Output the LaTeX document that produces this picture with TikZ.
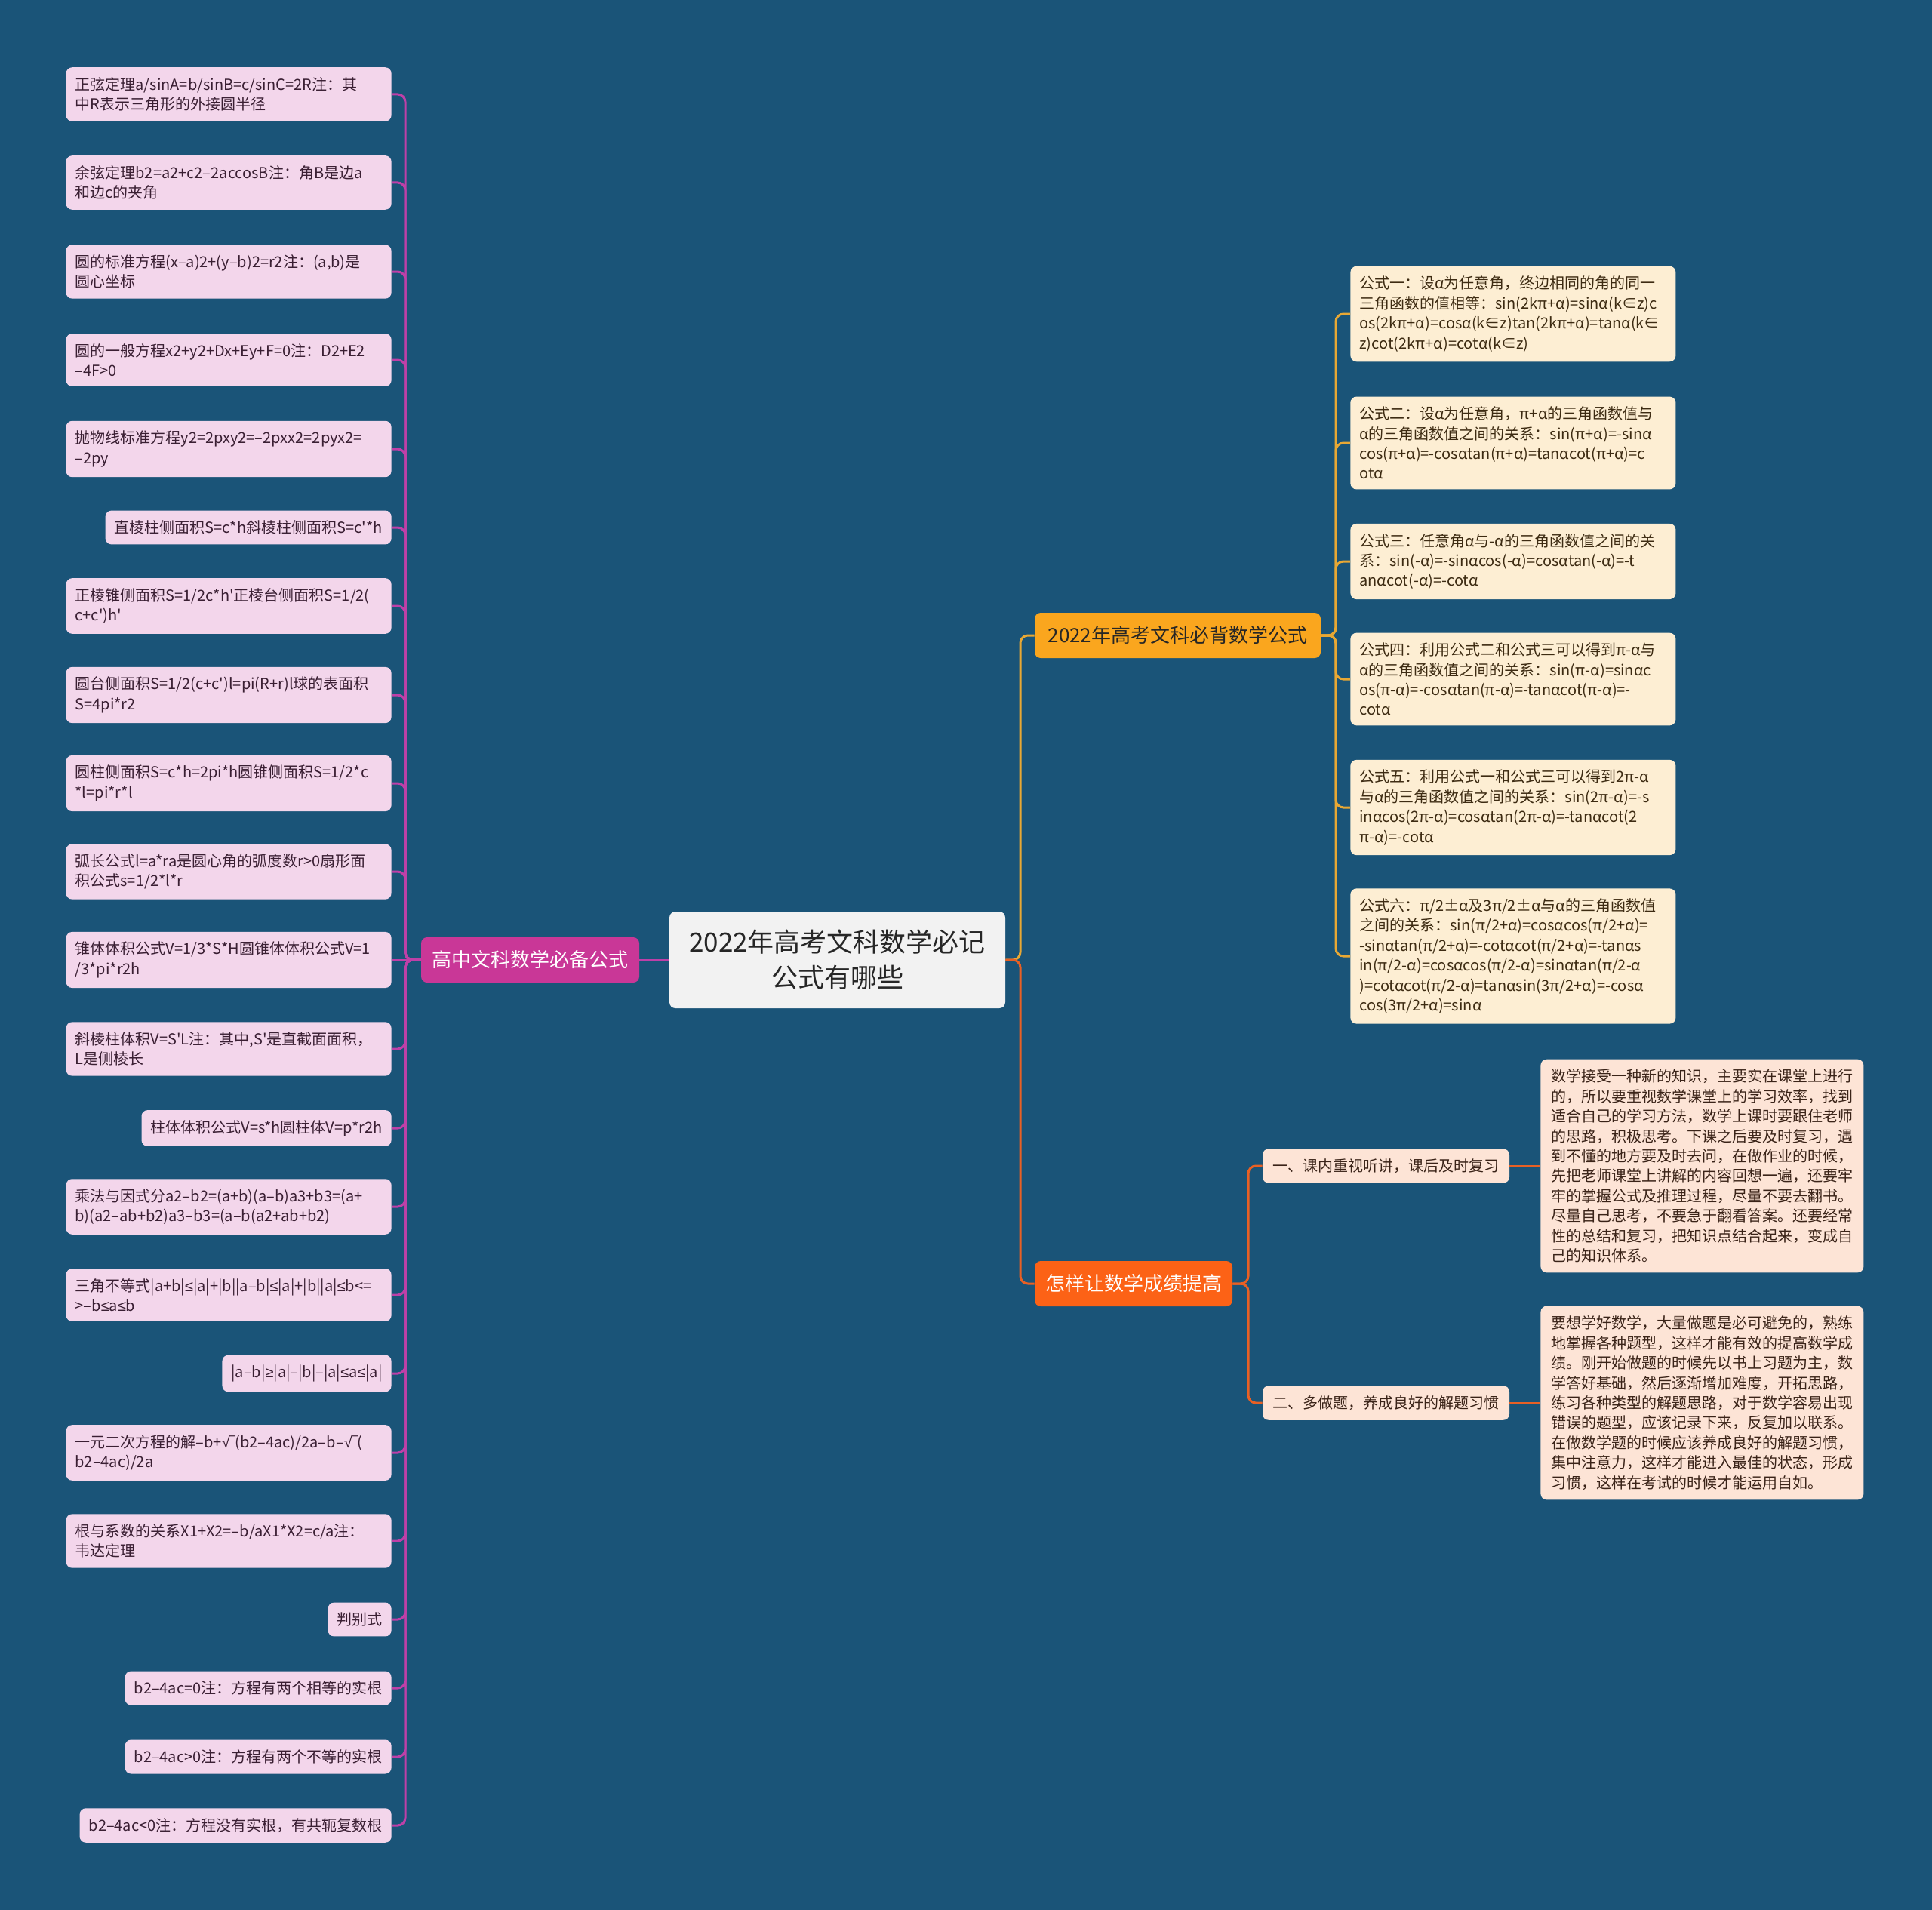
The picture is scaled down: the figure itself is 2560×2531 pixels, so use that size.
\documentclass[tikz,border=0pt]{standalone}
\usepackage{fontspec}
\newfontfamily\cjkfont{Noto Sans CJK SC}
\newfontfamily\symfont{Liberation Sans}
\newcommand\lesym{{\symfont ≤}}
\newcommand\gesym{{\symfont ≥}}
\newcommand\rootsym{{\symfont √‾}}
\usepackage{xcolor}
\definecolor{bgblue}{RGB}{26,84,120}
\definecolor{rootfill}{RGB}{242,242,242}
\definecolor{roottext}{RGB}{38,38,38}
\definecolor{pinkfill}{RGB}{243,214,235}
\definecolor{pinktext}{RGB}{58,31,51}
\definecolor{magenta}{RGB}{201,55,151}
\definecolor{plinkcol}{RGB}{190,64,168}
\definecolor{goldfill}{RGB}{250,166,30}
\definecolor{goldlink}{RGB}{232,168,52}
\definecolor{creamfill}{RGB}{253,238,211}
\definecolor{creamtext}{RGB}{61,43,18}
\definecolor{redorange}{RGB}{252,98,22}
\definecolor{olinkcol}{RGB}{232,96,36}
\definecolor{peachfill}{RGB}{253,228,214}
\definecolor{peachtext}{RGB}{58,35,24}
\usetikzlibrary{positioning}

\begin{document}
\begin{tikzpicture}[
  x=0.5pt,
  y=-0.5pt,
  root/.style={
    rounded corners=4pt,
    fill=rootfill,
    text=roottext,
    font=\cjkfont\fontsize{17.5pt}{23.5pt}\selectfont,
    align=center,
    minimum width=222.5pt,
    minimum height=64pt
  },
  branch/.style={
    rounded corners=4pt,
    font=\cjkfont\fontsize{13pt}{16pt}\selectfont,
    minimum height=30pt,
    inner xsep=6pt
  },
  fnote/.style={
    rounded corners=4pt,
    fill=pinkfill,
    text=pinktext,
    font=\cjkfont\fontsize{10pt}{13.2pt}\selectfont,
    inner xsep=6pt,
    inner ysep=6.6pt,
    anchor=east
  },
  fwide/.style={fnote,text width=203.5pt,align=left},
  tnote/.style={
    rounded corners=4pt,
    fill=creamfill,
    text=creamtext,
    font=\cjkfont\fontsize{10pt}{13.2pt}\selectfont,
    inner xsep=6pt,
    inner ysep=6.6pt,
    text width=203.5pt,
    align=left,
    anchor=west
  },
  hnote/.style={
    rounded corners=4pt,
    fill=peachfill,
    text=peachtext,
    font=\cjkfont\fontsize{10pt}{13.2pt}\selectfont,
    inner ysep=6.6pt
  },
  plink/.style={draw=plinkcol,line width=1.5pt,rounded corners=5pt},
  glink/.style={draw=goldlink,line width=1.5pt,rounded corners=5pt},
  olink/.style={draw=olinkcol,line width=1.5pt,rounded corners=5pt}
]

% Background
\fill[bgblue] (0,0) rectangle (2560,2531);
\useasboundingbox (0,0) rectangle (2560,2531);

% Central topic
\node[root] (root) at (1109.5,1272) {2022年高考文科数学必记\\公式有哪些};

% Main branches
\node[branch,fill=magenta,text=white,minimum width=144.5pt] (fbranch) at (702.5,1272)
  {高中文科数学必备公式};
\node[branch,fill=goldfill,text=roottext,minimum width=189.5pt] (tbranch) at (1560.5,842)
  {2022年高考文科必背数学公式};
\node[branch,fill=redorange,text=white,minimum width=131pt] (hbranch) at (1502,1701)
  {怎样让数学成绩提高};

% Junction points of the trunks
\coordinate (ftrunk) at (537,1272);
\coordinate (rtrunk) at (1352,1272);
\coordinate (ttrunk) at (1770,842);
\coordinate (htrunk) at (1654,1701);

% Formula notes (left)
\node[fwide] (f1) at (519,125) {正弦定理a/sinA=b/sinB=c/sinC=2R注：其\\中R表示三角形的外接圆半径};
\node[fwide] (f2) at (519,242) {余弦定理b2=a2+c2–2accosB注：角B是边a\\和边c的夹角};
\node[fwide] (f3) at (519,360) {圆的标准方程(x–a)2+(y–b)2=r2注：(a,b)是\\圆心坐标};
\node[fwide] (f4) at (519,477) {圆的一般方程x2+y2+Dx+Ey+F=0注：D2+E2\\–4F>0};
\node[fwide] (f5) at (519,595) {抛物线标准方程y2=2pxy2=–2pxx2=2pyx2=\\–2py};
\node[fnote] (f6) at (519,699) {直棱柱侧面积S=c*h斜棱柱侧面积S=c'*h};
\node[fwide] (f7) at (519,803) {正棱锥侧面积S=1/2c*h'正棱台侧面积S=1/2(\\c+c')h'};
\node[fwide] (f8) at (519,921) {圆台侧面积S=1/2(c+c')l=pi(R+r)l球的表面积\\S=4pi*r2};
\node[fwide] (f9) at (519,1038) {圆柱侧面积S=c*h=2pi*h圆锥侧面积S=1/2*c\\{}*l=pi*r*l};
\node[fwide] (f10) at (519,1155) {弧长公式l=a*ra是圆心角的弧度数r>0扇形面\\积公式s=1/2*l*r};
\node[fwide] (f11) at (519,1272) {锥体体积公式V=1/3*S*H圆锥体体积公式V=1\\/3*pi*r2h};
\node[fwide] (f12) at (519,1390) {斜棱柱体积V=S'L注：其中,S'是直截面面积，\\L是侧棱长};
\node[fnote] (f13) at (519,1495) {柱体体积公式V=s*h圆柱体V=p*r2h};
\node[fwide] (f14) at (519,1599) {乘法与因式分a2–b2=(a+b)(a–b)a3+b3=(a+\\b)(a2–ab+b2)a3–b3=(a–b(a2+ab+b2)};
\node[fwide] (f15) at (519,1716) {\mbox{三角不等式|a+b|\lesym|a|+|b||a–b|\lesym|a|+|b||a|\lesym b<=}\\>–b\lesym a\lesym b};
\node[fnote] (f16) at (519,1820) {|a–b|\gesym|a|–|b|–|a|\lesym a\lesym|a|};
\node[fwide] (f17) at (519,1925) {\mbox{一元二次方程的解–b+\rootsym(b2–4ac)/2a–b–\rootsym(}\\b2–4ac)/2a};
\node[fwide] (f18) at (519,2042) {根与系数的关系X1+X2=–b/aX1*X2=c/a注：\\韦达定理};
\node[fnote] (f19) at (519,2146) {判别式};
\node[fnote] (f20) at (519,2237) {b2–4ac=0注：方程有两个相等的实根};
\node[fnote] (f21) at (519,2328) {b2–4ac>0注：方程有两个不等的实根};
\node[fnote] (f22) at (519,2419) {b2–4ac<0注：方程没有实根，有共轭复数根};

% Trigonometric notes (upper right)
\node[tnote] (t1) at (1789,416)
  {公式一：设α为任意角，终边相同的角的同一\\三角函数的值相等：sin(2kπ+α)=sinα(k∈z)c\\os(2kπ+α)=cosα(k∈z)tan(2kπ+α)=tanα(k∈\\z)cot(2kπ+α)=cotα(k∈z)};
\node[tnote] (t2) at (1789,587)
  {公式二：设α为任意角，π+α的三角函数值与\\α的三角函数值之间的关系：sin(π+α)=-sinα\\cos(π+α)=-cosαtan(π+α)=tanαcot(π+α)=c\\otα};
\node[tnote] (t3) at (1789,744)
  {公式三：任意角α与-α的三角函数值之间的关\\系：sin(-α)=-sinαcos(-α)=cosαtan(-α)=-t\\anαcot(-α)=-cotα};
\node[tnote] (t4) at (1789,900)
  {公式四：利用公式二和公式三可以得到π-α与\\α的三角函数值之间的关系：sin(π-α)=sinαc\\os(π-α)=-cosαtan(π-α)=-tanαcot(π-α)=-\\cotα};
\node[tnote] (t5) at (1789,1070)
  {公式五：利用公式一和公式三可以得到2π-α\\与α的三角函数值之间的关系：sin(2π-α)=-s\\inαcos(2π-α)=cosαtan(2π-α)=-tanαcot(2\\π-α)=-cotα};
\node[tnote] (t6) at (1789,1267)
  {公式六：π/2±α及3π/2±α与α的三角函数值\\之间的关系：sin(π/2+α)=cosαcos(π/2+α)=\\-sinαtan(π/2+α)=-cotαcot(π/2+α)=-tanαs\\in(π/2-α)=cosαcos(π/2-α)=sinαtan(π/2-α\\)=cotαcot(π/2-α)=tanαsin(3π/2+α)=-cosα\\cos(3π/2+α)=sinα};

% Study tips (lower right)
\node[hnote,minimum width=163.5pt] (s1) at (1836.5,1545) {一、课内重视听讲，课后及时复习};
\node[hnote,minimum width=163.5pt] (s2) at (1836.5,1859) {二、多做题，养成良好的解题习惯};

\node[hnote,anchor=west,text width=200pt,inner xsep=7pt,align=left] (d1) at (2041,1545)
  {数学接受一种新的知识，主要实在课堂上进行\\的，所以要重视数学课堂上的学习效率，找到\\适合自己的学习方法，数学上课时要跟住老师\\的思路，积极思考。下课之后要及时复习，遇\\到不懂的地方要及时去问，在做作业的时候，\\先把老师课堂上讲解的内容回想一遍，还要牢\\牢的掌握公式及推理过程，尽量不要去翻书。\\尽量自己思考，不要急于翻看答案。还要经常\\性的总结和复习，把知识点结合起来，变成自\\己的知识体系。};
\node[hnote,anchor=west,text width=200pt,inner xsep=7pt,align=left] (d2) at (2041,1859)
  {要想学好数学，大量做题是必可避免的，熟练\\地掌握各种题型，这样才能有效的提高数学成\\绩。刚开始做题的时候先以书上习题为主，数\\学答好基础，然后逐渐增加难度，开拓思路，\\练习各种类型的解题思路，对于数学容易出现\\错误的题型，应该记录下来，反复加以联系。\\在做数学题的时候应该养成良好的解题习惯，\\集中注意力，这样才能进入最佳的状态，形成\\习惯，这样在考试的时候才能运用自如。};

% Links from the root
\draw[plink] (root.west) -- (fbranch.east);
\draw[glink] (root.east) -- (rtrunk) |- (tbranch.west);
\draw[olink] (root.east) -- (rtrunk) |- (hbranch.west);

% Links to the formula notes
\draw[plink] (fbranch.west) -- (ftrunk) |- (f1.east);
\draw[plink] (fbranch.west) -- (ftrunk) |- (f2.east);
\draw[plink] (fbranch.west) -- (ftrunk) |- (f3.east);
\draw[plink] (fbranch.west) -- (ftrunk) |- (f4.east);
\draw[plink] (fbranch.west) -- (ftrunk) |- (f5.east);
\draw[plink] (fbranch.west) -- (ftrunk) |- (f6.east);
\draw[plink] (fbranch.west) -- (ftrunk) |- (f7.east);
\draw[plink] (fbranch.west) -- (ftrunk) |- (f8.east);
\draw[plink] (fbranch.west) -- (ftrunk) |- (f9.east);
\draw[plink] (fbranch.west) -- (ftrunk) |- (f10.east);
\draw[plink] (fbranch.west) -- (f11.east);
\draw[plink] (fbranch.west) -- (ftrunk) |- (f12.east);
\draw[plink] (fbranch.west) -- (ftrunk) |- (f13.east);
\draw[plink] (fbranch.west) -- (ftrunk) |- (f14.east);
\draw[plink] (fbranch.west) -- (ftrunk) |- (f15.east);
\draw[plink] (fbranch.west) -- (ftrunk) |- (f16.east);
\draw[plink] (fbranch.west) -- (ftrunk) |- (f17.east);
\draw[plink] (fbranch.west) -- (ftrunk) |- (f18.east);
\draw[plink] (fbranch.west) -- (ftrunk) |- (f19.east);
\draw[plink] (fbranch.west) -- (ftrunk) |- (f20.east);
\draw[plink] (fbranch.west) -- (ftrunk) |- (f21.east);
\draw[plink] (fbranch.west) -- (ftrunk) |- (f22.east);

% Links to the trigonometric notes
\draw[glink] (tbranch.east) -- (ttrunk) |- (t1.west);
\draw[glink] (tbranch.east) -- (ttrunk) |- (t2.west);
\draw[glink] (tbranch.east) -- (ttrunk) |- (t3.west);
\draw[glink] (tbranch.east) -- (ttrunk) |- (t4.west);
\draw[glink] (tbranch.east) -- (ttrunk) |- (t5.west);
\draw[glink] (tbranch.east) -- (ttrunk) |- (t6.west);

% Links to the study tips
\draw[olink] (hbranch.east) -- (htrunk) |- (s1.west);
\draw[olink] (hbranch.east) -- (htrunk) |- (s2.west);
\draw[olink] (s1.east) -- (d1.west);
\draw[olink] (s2.east) -- (d2.west);
\end{tikzpicture}
\end{document}
